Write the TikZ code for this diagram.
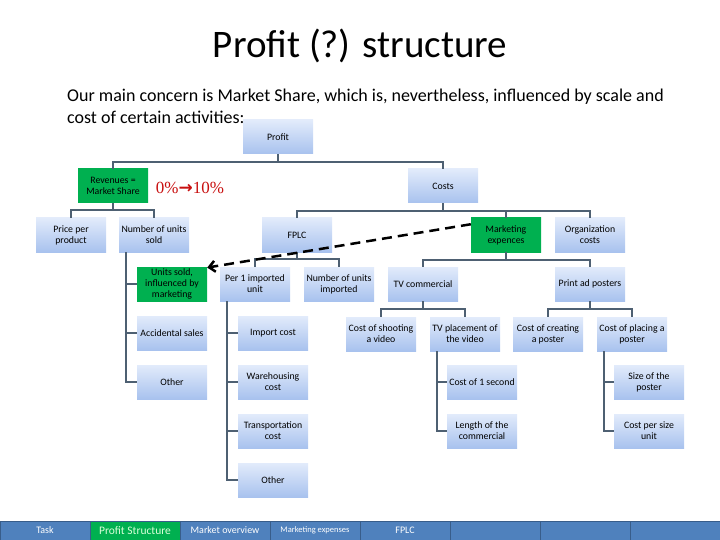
\documentclass[tikz,border=0pt]{standalone}
\usepackage{fontspec}
\setmainfont{Carlito}
\newfontfamily\numfont{Liberation Serif}
\newfontfamily\symfont{DejaVu Sans}
\usetikzlibrary{calc,arrows.meta}

\definecolor{boxtop}{RGB}{226,235,251}
\definecolor{boxbot}{RGB}{168,194,238}
\definecolor{mkgreen}{RGB}{0,176,80}
\definecolor{linkgray}{RGB}{78,96,114}
\definecolor{tabblue}{RGB}{79,129,189}
\definecolor{tabedge}{RGB}{56,93,138}
\definecolor{numred}{RGB}{200,16,16}

\tikzset{
  box/.style={minimum width=70pt, minimum height=34pt, inner sep=1pt, align=center,
    top color=boxtop, bottom color=boxbot, font=\fontsize{9.8}{11}\selectfont},
  gbox/.style={box, top color=mkgreen, bottom color=mkgreen},
  link/.style={draw=linkgray, line width=2.2pt},
  hint/.style={black, line width=2.5pt, dash pattern=on 10pt off 6pt,
    -{Straight Barb[length=6pt,width=11pt]}},
  tab/.style={draw=tabedge, fill=tabblue, line width=1pt, minimum width=90pt,
    minimum height=19pt, inner sep=0pt, text=white, font=\fontsize{10}{11}\selectfont}
}

\begin{document}
\begin{tikzpicture}[x=1pt,y=-1pt]
  \useasboundingbox (0,0) rectangle (720,540);

  \node (title) at (360,46) {\fontsize{39}{42}\selectfont Profit (?) structure};
  \node[anchor=north west, align=left, inner sep=0pt, font=\fontsize{18}{22}\selectfont] (intro) at (67,89)
    {Our main concern is Market Share, which is, nevertheless, influenced by scale and\\cost of certain activities:};

  \node[box] (profit) at (278,137) {Profit};
  \node[gbox] (rev) at (113,186) {Revenues =\\Market Share};
  \node[text=numred, font=\numfont\fontsize{17}{18}\selectfont] (share) at (190,188) {0\%{\symfont\bfseries→}10\%};
  \node[box] (costs) at (443,186) {Costs};

  \node[box] (price) at (71,235) {Price per\\product};
  \node[box] (nsold) at (154,235) {Number of units\\sold};
  \node[box] (fplc) at (297,235) {FPLC};
  \node[gbox] (mkt) at (506,235) {Marketing\\expences};
  \node[box] (org) at (590,235) {Organization\\costs};

  \node[gbox] (sinfl) at (172,284) {Units sold,\\influenced by\\marketing};
  \node[box] (per1) at (255,284) {Per 1 imported\\unit};
  \node[box] (nimp) at (339,284) {Number of units\\imported};
  \node[box] (tv) at (423,284) {TV commercial};
  \node[box] (print) at (590,284) {Print ad posters};

  \node[box] (accid) at (172,333) {Accidental sales};
  \node[box] (impc) at (273,333) {Import cost};
  \node[box] (shoot) at (381,334) {Cost of shooting\\a video};
  \node[box] (tvpl) at (465,334) {TV placement of\\the video};
  \node[box] (create) at (548,334) {Cost of creating\\a poster};
  \node[box] (place) at (632,334) {Cost of placing a\\poster};

  \node[box] (other1) at (172,382) {Other};
  \node[box] (ware) at (273,382) {Warehousing\\cost};
  \node[box] (sec) at (482,382) {Cost of 1 second};
  \node[box] (size) at (649,382) {Size of the\\poster};
  \node[box] (transp) at (273,431) {Transportation\\cost};
  \node[box] (length) at (482,431) {Length of the\\commercial};
  \node[box] (unit) at (649,431) {Cost per size\\unit};
  \node[box] (other2) at (273,480) {Other};

  \draw[link] (profit.south) -- ++(0,8) coordinate (pbus);
  \draw[link] (rev.north) |- (pbus) -| (costs.north);
  \draw[link] (rev.south) -- ++(0,7) coordinate (rbus);
  \draw[link] (price.north) |- (rbus) -| (nsold.north);
  \draw[link] (costs.south) -- ++(0,8) coordinate (cbus);
  \draw[link] (fplc.north) |- (cbus) -| (org.north);
  \draw[link] (mkt.north) -- (mkt.north |- cbus);
  \draw[link] (fplc.south) -- ++(0,7) coordinate (fbus);
  \draw[link] (per1.north) |- (fbus) -| (nimp.north);
  \draw[link] (mkt.south) -- ++(0,8) coordinate (mbus);
  \draw[link] (tv.north) |- (mbus) -| (print.north);
  \draw[link] (tv.south) -- ++(0,8) coordinate (tbus);
  \draw[link] (shoot.north) |- (tbus) -| (tvpl.north);
  \draw[link] (print.south) -- ++(0,8) coordinate (xbus);
  \draw[link] (create.north) |- (xbus) -| (place.north);

  \foreach \c in {sinfl,accid,other1}
    \draw[link] ($(nsold.south west)+(7,0)$) |- (\c.west);
  \foreach \c in {impc,ware,transp,other2}
    \draw[link] ($(per1.south west)+(7,0)$) |- (\c.west);
  \foreach \c in {sec,length}
    \draw[link] ($(tvpl.south west)+(7,0)$) |- (\c.west);
  \foreach \c in {size,unit}
    \draw[link] ($(place.south west)+(7,0)$) |- (\c.west);

  \draw[hint] (mkt.163) -- (sinfl.25);

  \foreach[evaluate={45+90*\i} as \x] \i/\lab in {0/Task,2/Market overview,3/{\fontsize{8.5}{9}\selectfont Marketing expenses},4/FPLC,5/,6/,7/}
    \node[tab] (tab\i) at (\x,530.5) {\lab};
  \node[tab, fill=mkgreen, text=green!15, font=\fontsize{11.5}{12}\selectfont] (tab1) at (135,530.5) {Profit Structure};
\end{tikzpicture}
\end{document}
